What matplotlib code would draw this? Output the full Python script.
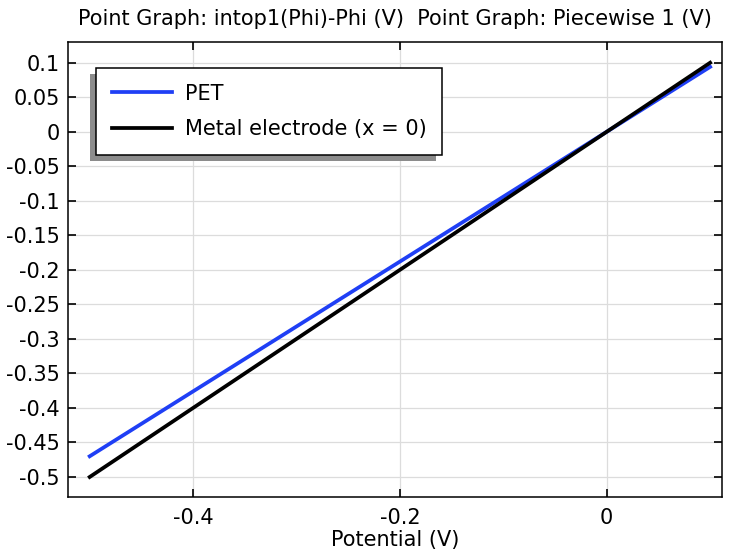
import numpy as np
import matplotlib
matplotlib.use('Agg')
from matplotlib import pyplot as plt
from matplotlib.patches import Rectangle
from matplotlib.ticker import FuncFormatter

plt.rcParams['font.family'] = ['DejaVu Sans']
plt.rcParams['axes.unicode_minus'] = False

# data
potential = [-0.5, -0.4, -0.3, -0.2, -0.1, 0.0, 0.1]
pet = [-0.470, -0.376, -0.282, -0.188, -0.094, 0.0, 0.094]
electrode = [-0.5, -0.4, -0.3, -0.2, -0.1, 0.0, 0.1]

x_ticks = [-0.4, -0.2, 0.0]
y_ticks = [0.1, 0.05, 0, -0.05, -0.1, -0.15, -0.2, -0.25, -0.3, -0.35, -0.4, -0.45, -0.5]

fs = 15

fig = plt.figure(figsize=(7.31, 5.55), dpi=100)
ax = fig.add_axes([0.093, 0.1045, 0.895, 0.8198])

ax.plot(potential, pet, color='#1f3ff5', linewidth=2.7, label='PET', zorder=3)
ax.plot(potential, electrode, color='black', linewidth=2.7, label='Metal electrode (x = 0)', zorder=3)

ax.set_xlim(-0.521, 0.1117)
ax.set_ylim(-0.529, 0.130)
ax.set_xticks(x_ticks)
ax.set_yticks(y_ticks)
fmt = FuncFormatter(lambda v, p: '0' if abs(v) < 1e-9 else f'{v:g}')
ax.xaxis.set_major_formatter(fmt)
ax.yaxis.set_major_formatter(fmt)
ax.tick_params(direction='in', length=6, width=1.2, top=True, right=True,
               labelsize=fs, colors='black', pad=6)
ax.tick_params(axis='x', pad=8)
ax.grid(True, color='#dcdcdc', linewidth=0.9)
ax.set_axisbelow(True)
for s in ax.spines.values():
    s.set_linewidth(1.1)

ax.set_xlabel('Potential (V)', fontsize=fs, labelpad=1)
ax.set_title('Point Graph: intop1(Phi)-Phi (V)  Point Graph: Piecewise 1 (V)',
             fontsize=fs, pad=12)

leg = ax.legend(loc='upper left', bbox_to_anchor=(0.0428, 0.943), fontsize=fs,
                fancybox=False, framealpha=1, edgecolor='black',
                borderaxespad=0, borderpad=0.75, handlelength=2.9,
                handletextpad=0.6, labelspacing=0.75)
leg.get_frame().set_linewidth(1.1)
leg.set_zorder(10)

# grey drop shadow down-left of the legend box
fig.canvas.draw()
bb = leg.get_window_extent().transformed(ax.transAxes.inverted())
px = ax.transAxes.inverted().transform([(6, 6)])[0] - ax.transAxes.inverted().transform([(0, 0)])[0]
ax.add_patch(Rectangle((bb.x0 - px[0], bb.y0 - px[1]), bb.width, bb.height,
                       transform=ax.transAxes, facecolor='#8c8c8c',
                       edgecolor='none', zorder=9, clip_on=False))

fig.savefig('out.png', dpi=100)
